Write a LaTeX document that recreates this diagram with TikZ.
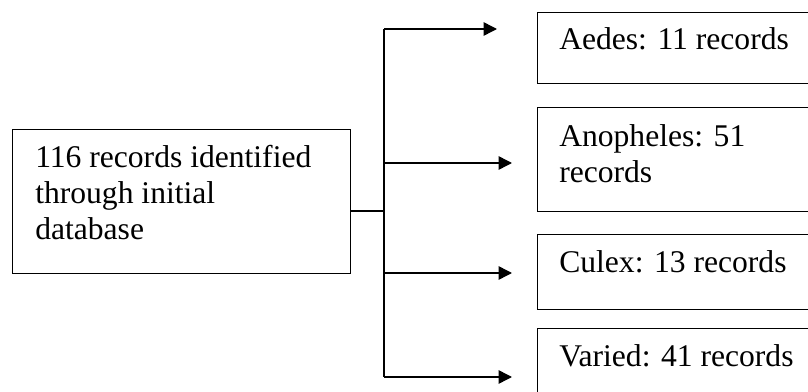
\documentclass[tikz,border=0pt]{standalone}
\usepackage{fontspec}
\setmainfont{Liberation Serif}
\usetikzlibrary{arrows.meta}
\begin{document}
\begin{tikzpicture}[x=0.75pt,y=-0.75pt,
  box/.style={draw, line width=1.1pt, rectangle, inner sep=0pt, anchor=north west},
  lbl/.style={anchor=base west, inner sep=0pt, font=\fontsize{23.7}{27}\selectfont, align=left},
  conn/.style={line width=1.1pt},
  arr/.style={line width=1.1pt, -{Triangle[length=10pt,width=10pt]}}]
\useasboundingbox (0,0) rectangle (808,392);
\clip (0,0) rectangle (808,392);
% left box
\node[box, minimum width=338*0.75pt, minimum height=144*0.75pt] (src) at (12,129) {};
\node[lbl] (srct) at (35,240) {116 records identified\\through initial\\database};
% right boxes
\node[box, minimum width=300*0.75pt, minimum height=71*0.75pt] (b1) at (537,12) {};
\node[box, minimum width=300*0.75pt, minimum height=104*0.75pt] (b2) at (537,107) {};
\node[box, minimum width=300*0.75pt, minimum height=75*0.75pt] (b3) at (537,234) {};
\node[box, minimum width=300*0.75pt, minimum height=80*0.75pt] (b4) at (537,328) {};
\node[lbl] (b1t) at (559,50) {Aedes: 11 records};
\node[lbl] (b2t) at (559,183) {Anopheles: 51\\records};
\node[lbl] (b3t) at (559,273) {Culex: 13 records};
\node[lbl] (b4t) at (559,367) {Varied: 41 records};
% connectors
\coordinate (j) at (384,211);
\coordinate (jt) at (384,29);
\coordinate (jb) at (384,377);
\coordinate (j2) at (384,163);
\coordinate (j3) at (384,273);
\coordinate (t1) at (497,29);
\coordinate (t2) at (512,163);
\coordinate (t3) at (512,273);
\coordinate (t4) at (512,377);
\draw[conn] (src.east |- j) -- (j);
\draw[conn] (jt) -- (jb);
\draw[arr] (jt) -- (t1);
\draw[arr] (j2) -- (t2);
\draw[arr] (j3) -- (t3);
\draw[arr] (jb) -- (t4);
\end{tikzpicture}
\end{document}
